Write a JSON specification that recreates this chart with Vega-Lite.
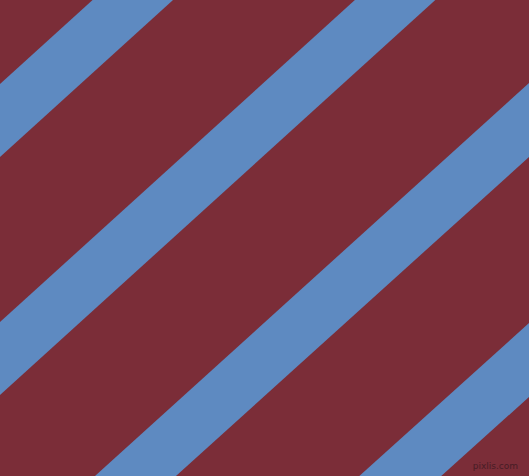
{
  "$schema": "https://vega.github.io/schema/vega-lite/v6.json",
  "width": 529,
  "height": 476,
  "padding": 0,
  "autosize": {"type": "fit", "contains": "padding"},
  "background": "#7B2D38",
  "config": {"view": {"stroke": null}},
  "datasets": {
    "stripes": [
      {"stripe": "s1", "x": 0, "top": 84, "bottom": 157},
      {"stripe": "s1", "x": 529, "top": -396, "bottom": -323},
      {"stripe": "s2", "x": 0, "top": 322, "bottom": 395},
      {"stripe": "s2", "x": 529, "top": -158, "bottom": -85},
      {"stripe": "s3", "x": 0, "top": 562, "bottom": 635},
      {"stripe": "s3", "x": 529, "top": 83, "bottom": 157},
      {"stripe": "s4", "x": 0, "top": 800, "bottom": 873},
      {"stripe": "s4", "x": 529, "top": 323, "bottom": 397}
    ],
    "mark": [
      {"label": "pixlis.com", "x": 518, "y": 471}
    ]
  },
  "layer": [
    {
      "data": {"name": "stripes"},
      "mark": {"type": "area", "clip": true, "color": "#5E8AC1", "interpolate": "linear"},
      "encoding": {
        "x": {"field": "x", "type": "quantitative", "scale": {"domain": [0, 529], "nice": false, "zero": false}, "axis": null},
        "y": {"field": "top", "type": "quantitative", "scale": {"domain": [0, 476], "nice": false, "zero": false, "reverse": true}, "axis": null},
        "y2": {"field": "bottom"},
        "detail": {"field": "stripe"}
      }
    },
    {
      "data": {"name": "mark"},
      "mark": {"type": "text", "align": "right", "baseline": "bottom", "fontSize": 9, "font": "DejaVu Sans", "color": "#3A1A22", "opacity": 0.8},
      "encoding": {
        "x": {"field": "x", "type": "quantitative"},
        "y": {"field": "y", "type": "quantitative"},
        "text": {"field": "label"}
      }
    }
  ]
}
